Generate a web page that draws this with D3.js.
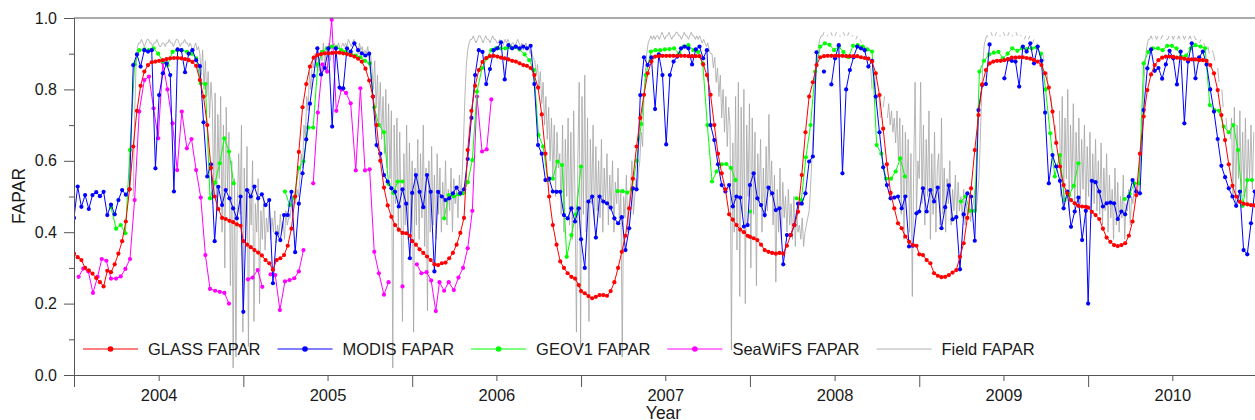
<!DOCTYPE html>
<html>
<head>
<meta charset="utf-8">
<script src="https://cdn.jsdelivr.net/npm/d3@7/dist/d3.min.js"></script>
<style>
  body { margin: 0; background: #fff; }
  svg text { font-family: "Liberation Sans", Arial, sans-serif; fill: #1a1a1a; }
</style>
</head>
<body>
<div id="chart"></div>
<script>
const width = 1255;
const height = 420;
const margin = {top: 18, left: 74, bottom: 45};
const plotW = 1183;
const plotH = height - margin.top - margin.bottom;

const years = [2004, 2005, 2006, 2007, 2008, 2009, 2010];
const yMajorTicks = [0, 0.2, 0.4, 0.6, 0.8, 1.0];
const yMinorTicks = [0.1, 0.3, 0.5, 0.7, 0.9];
const seriesNames = ["GLASS FAPAR", "MODIS FAPAR", "GEOV1 FAPAR", "SeaWiFS FAPAR", "Field FAPAR"];
const seriesColors = ["#ff0000", "#0000ff", "#00ff00", "#ff00ff", "#b0b0b0"];

// 8-day composites, 46 per year (2004..2010)
const glassValues = [
  .34,.33,.322,.30,.293,.284,.272,.26,.248,.292,.288,.31,.34,.375,.43,.52,.64,.74,.81,.85,.868,.876,.878,.88,.882,.885,.887,.888,.888,.887,.885,.882,.877,.866,.826,.78,.70,.58,.50,.465,.44,.437,.432,.428,.422,.418,
  .375,.365,.358,.35,.343,.335,.322,.313,.295,.322,.327,.336,.362,.41,.50,.625,.75,.815,.864,.889,.896,.899,.901,.901,.902,.903,.903,.901,.899,.896,.892,.886,.878,.858,.825,.78,.70,.60,.525,.475,.443,.42,.407,.398,.397,.39,
  .375,.365,.352,.342,.332,.322,.31,.308,.313,.315,.327,.342,.365,.398,.44,.63,.74,.81,.854,.877,.888,.893,.894,.892,.889,.887,.884,.88,.878,.873,.868,.866,.86,.84,.805,.73,.62,.50,.42,.365,.318,.30,.285,.275,.27,.252,
  .235,.229,.221,.215,.219,.224,.224,.222,.235,.26,.30,.345,.39,.467,.55,.64,.72,.785,.845,.878,.892,.893,.894,.894,.894,.894,.894,.894,.894,.893,.893,.893,.893,.87,.84,.785,.70,.62,.565,.52,.45,.435,.42,.407,.40,.39,
  .387,.383,.378,.365,.35,.345,.342,.34,.342,.34,.362,.392,.42,.457,.56,.68,.78,.82,.868,.89,.893,.894,.894,.894,.894,.894,.893,.893,.893,.893,.89,.888,.886,.878,.845,.784,.69,.59,.51,.467,.425,.411,.388,.373,.364,.362,
  .338,.336,.322,.313,.285,.278,.274,.275,.28,.287,.294,.331,.369,.44,.523,.63,.728,.814,.854,.873,.878,.88,.88,.882,.885,.889,.889,.89,.89,.888,.886,.882,.878,.868,.845,.805,.738,.65,.584,.532,.509,.49,.481,.474,.472,.471,
  .469,.457,.448,.437,.41,.385,.373,.364,.361,.364,.369,.39,.43,.504,.62,.724,.798,.842,.868,.882,.889,.892,.892,.891,.889,.888,.886,.884,.884,.884,.882,.882,.88,.868,.845,.798,.728,.658,.59,.53,.50,.485,.48,.478,.476,.475
];

const modisValues = [
  .44,.528,.471,.504,.465,.504,.512,.501,.513,.448,.477,.45,.49,.518,.505,.52,.868,.898,.864,.91,.906,.91,.579,.784,.845,.873,.84,.514,.912,.91,.848,.90,.91,.882,.865,.708,.556,.59,.375,.527,.476,.518,.495,.467,.439,.50,
  .177,.518,.50,.528,.495,.506,.476,.49,.257,.397,.378,.448,.448,.513,.344,.48,.565,.66,.76,.838,.915,.842,.86,.915,.696,.915,.805,.803,.915,.906,.929,.91,.901,.895,.90,.78,.644,.62,.56,.542,.523,.513,.472,.52,.48,.327,
  .51,.56,.513,.47,.56,.513,.29,.513,.50,.49,.495,.509,.525,.509,.52,.605,.72,.84,.91,.905,.815,.857,.91,.915,.932,.828,.924,.915,.92,.915,.92,.915,.922,.815,.644,.62,.546,.55,.514,.513,.513,.448,.439,.467,.43,.467,
  .38,.30,.486,.50,.385,.50,.486,.481,.469,.439,.425,.442,.35,.411,.523,.52,.784,.89,.868,.89,.745,.898,.84,.646,.84,.878,.892,.915,.92,.915,.87,.912,.92,.887,.91,.70,.658,.59,.532,.514,.532,.472,.50,.497,.416,.42,
  .532,.565,.495,.476,.448,.525,.509,.462,.467,.31,.392,.392,.42,.48,.48,.509,.598,.612,.904,null,.85,null,.814,.887,.924,.565,.80,.854,.89,.92,.915,.91,.864,.88,.78,.68,.582,.532,.495,.497,.50,.467,.50,.36,.362,.453,
  .458,.523,.458,.518,.486,.525,.411,.47,.531,.436,.442,.296,.45,.509,.50,.376,.742,.812,.815,.926,null,null,null,.831,.884,.88,.878,.808,.92,.906,.929,.873,.92,.88,.735,.537,.616,.584,.544,.467,.514,.415,.458,.497,.378,.46,
  .20,.544,.54,.514,.472,.481,.483,.481,.437,.458,.45,.50,.546,.514,.509,.742,.859,.912,.852,.86,.83,.87,.908,.887,.814,.906,.705,.878,.929,.831,.89,.906,.87,.80,.738,.661,.586,.554,.523,.50,.474,.514,.35,.338,.425,.514
];

// 10-day composites, 36 per year (2004..2010)
const geov1Values = [
  null,null,null,null,null,null,null,null,.47,.41,.42,.397,.63,.87,.91,.912,.91,.915,.90,.878,.868,.905,.91,.91,.905,.90,.887,.817,.815,.495,.539,.593,.663,.626,.537,null,
  null,null,null,null,null,null,null,null,null,.514,.476,.497,.58,.598,.693,.693,.87,.905,.915,.92,.918,.91,.905,.90,.895,.89,.88,.873,.75,.70,.68,.535,.51,.542,.542,null,
  null,null,null,null,null,null,null,.439,.504,.50,.506,.509,.54,.602,.794,.86,.887,.91,.915,.915,.915,.918,.918,.912,.898,.882,.854,.672,.64,.546,.55,.598,.588,.331,.392,.45,
  .584,null,null,null,null,null,null,null,.515,.515,.511,.52,.60,.703,.84,.906,.91,.91,.912,.913,.915,.90,.92,.924,.91,.905,.873,.70,.542,.57,.59,.591,.58,.546,null,null,
  .458,null,null,null,null,null,null,null,null,null,.495,.49,.61,.70,.85,.92,.929,.925,.91,.92,.905,.89,.922,.924,.92,.912,.906,.644,.62,.55,.55,.57,.607,.556,null,null,
  null,null,null,null,null,null,null,null,null,.486,.50,.46,.46,.85,.88,.898,.903,.905,.887,.90,.915,.908,.915,.913,.915,.918,.90,.80,.677,.556,.616,.49,.504,.53,.593,null,
  null,null,null,null,null,null,null,null,.493,.507,.537,.537,.873,.905,.915,.915,.91,.922,.922,.915,.892,.895,.915,.924,.92,.915,.756,.742,.74,.696,.68,.70,.63,.474,.546,.546
];

// 10-day composites, 2004..2006 only
const seawifsValues = [
  null,.275,.298,.29,.23,.275,.325,.32,.27,.27,.276,.297,.325,.49,.738,.826,.836,.747,.663,.875,.80,.705,.574,.738,.635,.661,.574,.497,.336,.241,.236,.233,.23,.20,null,null,
  null,.268,.273,.294,.247,null,.282,.28,.182,.262,.266,.271,.29,.35,null,.537,.735,.87,.85,.995,.74,.80,.79,.761,.573,.803,.573,.576,.345,.285,.225,.26,null,null,.248,null,
  null,.31,.285,.288,.265,.179,.26,.236,.26,.238,.273,.30,.355,.46,.78,.626,.632,.772,null,null,null,null,null,null,null,null,null,null,null,null,null,null,null,null,null,null
];

// field FAPAR (x100): [first day counted from 2004-01-01, one value every 3 days]
const fieldRuns = [
  [128, [50,72,86,92,93,93,94,93,92,93,94,94,93,93,92,93,93,94,93,92,92,93,93,92,93,93,94,93,93,92,93,94,94,93,92,93,93,94,93,93,92,93,92,90,92,93,91,92]],
  [272, [90,84,91,80,88,78,85,72,82,76,50,79,45,73,55,78,40,70,30,75,52,68,25,60,2,55,5,48,62,45,70,12,58,38,64,8,52,42,60,15,48,40,55,20,46,38,50,35,44,40,48,38,44,40,46,37,42,39,45,40,43,38,46,42,44,44,48,46,50,48,52,50]],
  [488, [55,62,58,70,66,78,74,85,80,88,86,90,86,92,85,91,88,93,86,92,89,93,88,91,92,93,90,92,93,91,92,93,92,93,92,94,93,92,93,94,93,92,90,93,91,92,89,91,90,92,88,90]],
  [644, [86,80,88,75,84,70,82,66,78,62,80,58,76,55,74,2,70,48,72,40,68,45,15,62,42,70,38,65,40,60,12,58,42,66,38,62,44,70,36,58,18,60,40,64,42,56,38,62,45,58,40,54,44,60,42,52,46,58,40,55,48,52,44,56,50]],
  [839, [56,66,78,87,91,93,94,94,95,94,93,94,95,95,94,93,94,95,94,94,93,94,95,94,94,93,93,94,93,92,93,94,93,94,93,92,93,93,92,93,94,93,92,93,91,92,93,91,92,90,91,89]],
  [996, [88,84,87,80,85,76,82,70,78,66,75,60,72,55,70,50,68,58,62,45,70,40,66,50,72,42,68,38,74,48,12,60,82,8,78,45,84,40,72,15,66,48,70,42,64,46,60,44,66,40,58,48,62,42,56,46,60,40,54,48,58,42,52,5,50,44,56,40,48,52,60,45,50,55,52,58]],
  [1223, [60,68,64,78,85,90,93,94,95,94,95,94,95,95,94,95,96,95,94,95,95,96,95,94,95,95,96,96,95,95,94,95,96,95,95,94,95,96,95,95,94,95,94,95,94,93,94,93,92,93,91,90]],
  [1379, [90,86,89,82,86,78,84,72,80,68,78,64,75,70,7,65,40,78,35,82,22,75,45,80,20,70,50,76,30,72,45,68,25,62,48,66,40,58,44,64,46,73,50,60,42,56,26,52,40,58,38,54,44,50,40,52,42,48,38,50,36,46,40,42,38,44,36,40,42,44,46]],
  [1591, [50,58,66,74,82,88,92,94,95,95,96,null,95,95,null,96,95,null,95,96,null,95,95,null,96,95,null,95,96,null,95,95,null,94,95,null,94,93,null,92]],
  [1710, [90,null,88,null,86,80,null,84,76,null,78,72,null,75,78,null,72,76,70,74,68,72,65,74,60,72,45,70,38,68,50,66,40,62,22,58,82,45,60,55,82,48,70,42,66,50,74,38,62,45,68,40,58,62,42,72,45,58,40,55,48,60,42,52,46,56,44,54,46,50,44,52,42,48,45,50,43,47,48,52,46,50,55]],
  [1958, [62,75,86,92,94,95,95,null,96,95,null,95,96,null,95,95,null,96,95,null,95,96,null,95,95,null,96,95,null,95,95,null,94,95,null,94,95,null,93,94,null,93,92]],
  [2088, [92,null,90,88,null,85,80,null,78,72,null,70,65,null,74,50,78,48,72,55,80,46,70,52,76,45,68,50,72,48,66,52,70,45,64,50,68,44,62,48,66,46,60,45,65,42,58,46,62,40,56,44,52,38,58,42,54,40,50,44,56,38,48,46,52,42,50,48,54,52,50,54]],
  [2304, [58,64,74,83,89,92,94,94,95,94,null,95,94,95,null,94,95,95,null,94,94,95,null,95,94,95,null,94,95,94,null,95,94,95,null,94,95,94,null,95,94,94,null,93,94,null,93,92,null,92,90,null,91,90]],
  [2466, [88,null,86,82,null,80,75,null,72,68,null,66,72,50,75,48,70,55,74,52,68,50,72,48,66,55,70,52,68]]
];

const utc = (y, m, d) => new Date(Date.UTC(y, m, d));

const eightDay = vals => vals.map((v, i) => ({
  date: utc(years[0] + Math.floor(i / 46), 0, 1 + 8 * (i % 46)), v: v
}));
const tenDay = vals => vals.map((v, i) => {
  const j = i % 36;
  return {date: utc(years[0] + Math.floor(i / 36), Math.floor(j / 3), 1 + 10 * (j % 3)), v: v};
});
const fieldPoints = fieldRuns.flatMap(([start, vals]) => vals.map((v, i) => ({
  date: utc(years[0], 0, 1 + start + 3 * i), v: v == null ? null : v / 100
})));

const x = d3.scaleUtc()
  .domain([utc(2004, 0, 1), utc(2011, 0, 1)])
  .range([0, plotW]);

const y = d3.scaleLinear()
  .domain([0, 1])
  .range([plotH, 0]);

const svg = d3.select("#chart")
  .append("svg")
  .attr("width", width)
  .attr("height", height);

const g = svg.append("g")
  .attr("transform", `translate(${margin.left},${margin.top})`);

g.append("clipPath").attr("id", "plotclip")
  .append("rect").attr("x", 0).attr("y", -2).attr("width", plotW).attr("height", plotH + 2);

const line = d3.line()
  .defined(d => d.v != null)
  .x(d => x(d.date))
  .y(d => y(d.v));

const dataG = g.append("g").attr("clip-path", "url(#plotclip)");

function drawSeries(points, color, withDots, lineWidth) {
  dataG.append("path")
    .datum(points)
    .attr("fill", "none")
    .attr("stroke", color)
    .attr("stroke-width", lineWidth)
    .attr("d", line);
  if (withDots) {
    dataG.append("g")
      .selectAll("circle")
      .data(points.filter(d => d.v != null))
      .join("circle")
      .attr("cx", d => x(d.date))
      .attr("cy", d => y(d.v))
      .attr("r", 2.1)
      .attr("fill", color);
  }
}

drawSeries(fieldPoints, "#a4a4a4", false, 0.8);
drawSeries(tenDay(seawifsValues), seriesColors[3], true, 1);
drawSeries(tenDay(geov1Values), seriesColors[2], true, 1);
drawSeries(eightDay(modisValues), seriesColors[1], true, 1);
drawSeries(eightDay(glassValues), seriesColors[0], true, 1);

// axes
const axisColor = "#555";

const yMajor = g.append("g")
  .call(d3.axisLeft(y).tickValues(yMajorTicks).tickFormat(d3.format(".1f")).tickSize(10).tickSizeOuter(0).tickPadding(7));
const yMinor = g.append("g")
  .call(d3.axisLeft(y).tickValues(yMinorTicks).tickFormat("").tickSize(5).tickSizeOuter(0));

const yearStarts = years.map(yr => utc(yr, 0, 1)).concat([utc(2011, 0, 1)]);
const midYears = years.map(yr => utc(yr, 6, 2));

const xLong = g.append("g")
  .attr("transform", `translate(0,${plotH})`)
  .call(d3.axisBottom(x).tickValues(yearStarts).tickFormat("").tickSize(12).tickSizeOuter(0));
const xLabels = g.append("g")
  .attr("transform", `translate(0,${plotH})`)
  .call(d3.axisBottom(x).tickValues(midYears).tickFormat(d3.utcFormat("%Y")).tickSize(6).tickSizeOuter(0).tickPadding(8));

g.append("line")
  .attr("x1", 0).attr("x2", plotW)
  .attr("y1", 0).attr("y2", 0)
  .attr("stroke", axisColor);

g.selectAll(".domain, .tick line").attr("stroke", axisColor);
yMajor.selectAll("text").attr("font-size", 16);
xLabels.selectAll("text").attr("font-size", 16.5);
g.selectAll(".tick text").attr("font-family", null).attr("fill", "#1a1a1a");

// axis titles
svg.append("text")
  .attr("transform", "translate(25,196) rotate(-90)")
  .attr("text-anchor", "middle")
  .attr("font-size", 17.5)
  .text("FAPAR");

svg.append("text")
  .attr("x", margin.left + plotW / 2 - 2)
  .attr("y", 419)
  .attr("text-anchor", "middle")
  .attr("font-size", 17.5)
  .text("Year");

// legend
const legend = svg.append("g").attr("transform", "translate(83,349)");
let lx = 0;
seriesNames.forEach((name, i) => {
  const item = legend.append("g").attr("transform", `translate(${lx},0)`);
  item.append("line")
    .attr("x1", 0).attr("x2", 55)
    .attr("y1", 0).attr("y2", 0)
    .attr("stroke", seriesColors[i])
    .attr("stroke-width", 1);
  if (i < 4) {
    item.append("circle").attr("cx", 27.5).attr("cy", 0).attr("r", 2.8).attr("fill", seriesColors[i]);
  }
  const t = item.append("text")
    .attr("x", 65)
    .attr("y", 0)
    .attr("dy", "0.36em")
    .attr("font-size", 16.5)
    .text(name);
  lx += 65 + t.node().getComputedTextLength() + 17;
});
</script>
</body>
</html>
